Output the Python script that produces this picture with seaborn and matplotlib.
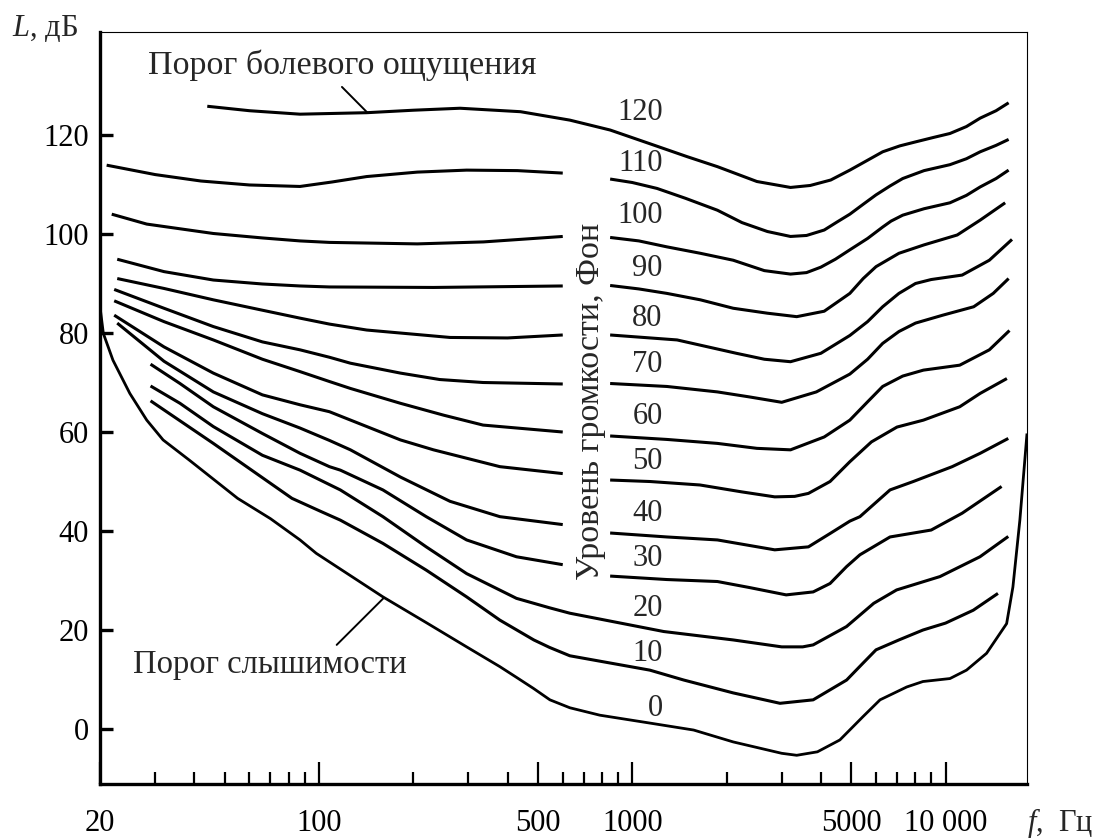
import matplotlib
matplotlib.use("Agg")
import matplotlib.pyplot as plt
import pandas as pd
import seaborn as sns
from matplotlib.ticker import FixedLocator, FixedFormatter, NullFormatter

# ---------------- data (frequency, Hz / level, dB) ----------------
F_0 = [20, 20.5, 22, 24.9, 28.2, 31.8, 38.6, 55, 70, 87, 98, 160, 220, 296, 378, 428,
       484, 546, 632, 788, 1140, 1570, 2100, 3000, 3350, 3900, 4600, 5450, 6180, 7520,
       8470, 10330, 11670, 13520, 15670, 16410, 17270, 18200]
L_0 = [85.3, 79.9, 74.5, 67.8, 62.4, 58.4, 54.3, 46.6, 42.5, 38.2, 35.5, 26.7, 21.5,
       16.6, 12.6, 10.4, 8.2, 5.9, 4.3, 2.8, 1.2, -0.2, -2.6, -4.9, -5.3, -4.6, -2.2,
       2.5, 5.9, 8.5, 9.6, 10.2, 11.9, 15.3, 21.3, 28.7, 42.2, 59.7]

F_10 = [29, 46, 82, 101, 117, 160, 220, 296, 378, 485, 544, 632, 1138, 1460, 2100,
        2962, 3780, 4834, 5450, 6000, 7100, 8470, 10000, 12260, 14700]
L_10 = [66.3, 57.7, 46.6, 44, 42.2, 37.5, 32.1, 26.7, 22, 18, 16.5, 14.8, 11.9, 9.9,
        7.3, 5.2, 5.9, 9.9, 13.3, 16, 18, 20, 21.4, 24, 27.4]

F_20 = [29, 36, 46, 66, 87, 117, 160, 220, 296, 427, 544, 632, 1260, 2100, 3000,
        3500, 3780, 4830, 5900, 6980, 9600, 12880, 15860]
L_20 = [69.3, 65.8, 61.1, 55.3, 52.3, 48.3, 42.9, 36.8, 31.4, 26.4, 24.5, 23.4, 19.7,
        18, 16.6, 16.6, 17, 20.7, 25.4, 28.1, 30.8, 34.8, 38.9]

F_30 = [29, 36, 46, 66, 87, 108, 117, 160, 220, 296, 427, 600, 850, 1290, 1870, 2360,
        3100, 3780, 4280, 4830, 5330, 6650, 9000, 11300, 15100]
L_30 = [73.7, 69.8, 65.1, 59.7, 55.7, 53, 52.3, 48.3, 42.9, 38.2, 34.8, 33.2, 30.9,
        30.2, 29.8, 28.6, 27.1, 27.7, 29.4, 32.8, 35.2, 38.8, 40.2, 43.6, 49]

F_40 = [22.7, 32, 46, 66, 87, 108, 126, 182, 262, 378, 600, 850, 1290, 1870, 2850,
        3650, 4280, 4950, 5330, 6650, 7890, 10500, 12900, 15860]
L_40 = [82, 74.3, 68.1, 63.7, 60.8, 58.3, 56.4, 50.9, 46, 42.9, 41.3, 39.6, 38.8,
        38.2, 36.2, 36.8, 39.5, 42, 42.9, 48.3, 50, 53, 55.7, 58.7]

F_50 = [22.2, 32, 46, 66, 87, 108, 182, 232, 378, 600, 850, 1140, 1645, 2240, 2850,
        3300, 3650, 4280, 4950, 5800, 7000, 8500, 11100, 12900, 15700]
L_50 = [83.6, 77.2, 71.9, 67.5, 65.5, 64.1, 58.4, 56.4, 53, 51.6, 50.3, 50, 49.3,
        47.9, 46.9, 47, 47.6, 50, 54, 58, 61, 62.4, 65.1, 67.8, 70.8]

F_60 = [22.2, 32, 46, 66, 87, 108, 126, 182, 250, 334, 600, 850, 1290, 1870, 2500,
        3200, 4100, 4950, 5640, 6300, 7300, 8500, 11100, 13800, 16000]
L_60 = [86.5, 82.3, 78.6, 74.7, 72.2, 70.2, 68.8, 65.8, 63.4, 61.4, 60, 59.2, 58.5,
        57.7, 56.7, 56.4, 59, 62.4, 66.1, 69.2, 71.3, 72.5, 73.5, 76.6, 80.5]

F_70 = [22.2, 32, 46, 66, 87, 108, 126, 182, 243, 334, 600, 850, 1290, 1870, 2360,
        3000, 3870, 4950, 5640, 6300, 7100, 8020, 9800, 12300, 14200, 15900]
L_70 = [88.8, 85, 81.3, 78.2, 76.6, 75.1, 73.9, 71.9, 70.6, 70, 69.7, 69.8, 69.2,
        68.1, 67.1, 66, 68.1, 71.7, 74.7, 77.9, 80.3, 82, 83.6, 85.3, 88, 91]

F_80 = [22.7, 32, 46, 66, 87, 108, 142, 262, 400, 600, 850, 1390, 2150, 2640, 3200,
        4000, 4950, 5640, 6300, 7100, 8020, 9000, 11300, 13800, 16300]
L_80 = [91, 89, 86.7, 84.6, 83, 81.8, 80.6, 79.1, 79, 79.6, 79.6, 78.6, 75.9, 74.7,
        74.2, 75.9, 79.5, 82.3, 85.3, 88, 90, 90.8, 91.7, 94.7, 98.9]

F_90 = [22.7, 32, 46, 66, 87, 108, 232, 600, 850, 1050, 1290, 1650, 2100, 2700, 3350,
        4100, 4950, 5460, 6000, 7100, 8540, 10900, 12900, 15500]
L_90 = [94.9, 92.4, 90.7, 89.9, 89.5, 89.3, 89.2, 89.5, 89.6, 88.9, 88, 86.7, 85, 84,
        83.3, 84.4, 88, 91, 93.4, 96.1, 97.8, 99.8, 102.8, 106.3]

F_100 = [21.8, 28.2, 46, 66, 87, 108, 206, 335, 600, 850, 1050, 1290, 1650, 2100,
         2640, 3200, 3600, 4000, 4450, 4950, 5640, 6300, 6700, 7300, 8540, 10330,
         11660, 12900, 14500, 15900]
L_100 = [104, 102, 100.1, 99.2, 98.6, 98.3, 98, 98.4, 99.5, 99.3, 98.6, 97.4, 96.1,
         94.7, 92.6, 91.9, 92.2, 93.3, 94.9, 96.8, 99.1, 101.4, 102.6, 103.8, 105.1,
         106.3, 107.8, 109.5, 111.2, 112.9]

F_110 = [21, 30, 42, 60, 87, 110, 142, 206, 296, 430, 600, 850, 1000, 1200, 1480,
         1870, 2240, 2700, 3200, 3600, 4100, 4500, 4950, 5460, 6000, 6650, 7300, 8540,
         10330, 11660, 12900, 14500, 15900]
L_110 = [113.9, 112, 110.7, 109.9, 109.6, 110.5, 111.6, 112.5, 112.9, 112.8, 112.3,
         111.1, 110.4, 109.2, 107.2, 104.8, 102.3, 100.5, 99.5, 99.7, 100.8, 102.4,
         104, 106, 107.9, 109.7, 111.2, 112.8, 114, 115.2, 116.6, 117.9, 119.1]

F_120 = [44, 60, 87, 142, 200, 282, 440, 632, 850, 1130, 1500, 1870, 2500, 3200, 3700,
         4300, 4950, 5640, 6300, 7150, 8020, 9150, 10330, 11660, 12900, 14500, 15900]
L_120 = [125.8, 124.9, 124.2, 124.5, 125, 125.4, 124.7, 123, 121, 118.3, 115.6, 113.6,
         110.6, 109.4, 109.8, 110.9, 112.9, 114.9, 116.6, 117.8, 118.6, 119.5, 120.3,
         121.7, 123.4, 124.9, 126.5]

PHONS = [0, 10, 20, 30, 40, 50, 60, 70, 80, 90, 100, 110, 120]
CURVES_F = [F_0, F_10, F_20, F_30, F_40, F_50, F_60, F_70, F_80, F_90, F_100, F_110, F_120]
CURVES_L = [L_0, L_10, L_20, L_30, L_40, L_50, L_60, L_70, L_80, L_90, L_100, L_110, L_120]
GAPPED = [30, 40, 50, 60, 70, 80, 90, 100, 110]
GAP_LO, GAP_HI = 600, 850

LABEL_F = 1250
LABEL_L = [4.2, 15.3, 24.4, 34.5, 43.6, 54, 63.1, 73.7, 83, 93.1, 103.8, 114.3, 124.5]

X_MAJOR = [20, 100, 500, 1000, 5000, 10000]
X_LABELS = ["20", "100", "500", "1000", "5000", "10 000"]
X_MINOR = [30, 40, 50, 60, 70, 80, 90, 200, 300, 400, 600, 700, 800, 900,
           2000, 3000, 4000, 6000, 7000, 8000, 9000]
Y_TICKS = [0, 20, 40, 60, 80, 100, 120]

# ---------------- style ----------------
sns.set_style("white")
plt.rcParams['font.family'] = ['Liberation Serif', 'DejaVu Serif']
plt.rcParams['mathtext.fontset'] = 'custom'
plt.rcParams['mathtext.it'] = 'Liberation Serif:italic'
plt.rcParams['mathtext.rm'] = 'Liberation Serif'
FS = 22

fig = plt.figure(figsize=(11.02, 8.38), dpi=100)
ax = fig.add_axes([100 / 1102, 54 / 838, 927 / 1102, 752 / 838])
ax.set_xscale('log')

rows = []
for phon, F, L in zip(PHONS, CURVES_F, CURVES_L):
    for f, l in zip(F, L):
        seg = f"{phon}"
        if phon in GAPPED:
            if f <= GAP_LO:
                seg += "a"
            elif f >= GAP_HI:
                seg += "b"
            else:
                continue
        rows.append({"freq": f, "level": l, "seg": seg, "phon": phon})
df = pd.DataFrame(rows)

for seg, sub in df.groupby("seg", sort=False):
    lw = 2.0 if sub["phon"].iloc[0] == 0 else 2.2
    sns.lineplot(data=sub, x="freq", y="level", estimator=None, sort=False,
                 color="black", linewidth=lw, ax=ax, legend=False,
                 solid_joinstyle="round", solid_capstyle="butt")

ax.set_xlim(20, 18200)
ax.set_ylim(-11.1, 140.8)
ax.set_xlabel("")
ax.set_ylabel("")

ax.xaxis.set_major_locator(FixedLocator(X_MAJOR))
ax.xaxis.set_major_formatter(FixedFormatter(X_LABELS))
ax.xaxis.set_minor_locator(FixedLocator(X_MINOR))
ax.xaxis.set_minor_formatter(NullFormatter())
ax.yaxis.set_major_locator(FixedLocator(Y_TICKS))
ax.yaxis.set_minor_locator(FixedLocator([]))

ax.tick_params(axis='x', which='major', direction='in', length=16, width=1.6,
               pad=18, labelsize=FS, color='black', labelcolor='black',
               bottom=True, top=False)
ax.tick_params(axis='x', which='minor', direction='in', length=8.3, width=1.6,
               color='black', bottom=True, top=False)
ax.tick_params(axis='y', which='major', direction='in', length=9.4, width=2.4,
               pad=8, labelsize=FS, color='black', labelcolor='black',
               left=True, right=False)

for side in ['left', 'bottom']:
    ax.spines[side].set_linewidth(2.4)
    ax.spines[side].set_color('black')
for side in ['top', 'right']:
    ax.spines[side].set_linewidth(0.8)
    ax.spines[side].set_color('black')
ax.grid(False)

# curve labels
for phon, lv in zip(PHONS, LABEL_L):
    ax.text(LABEL_F, lv, str(phon), ha='right', va='center', fontsize=FS)

# annotations
ax.text(28.5, 134.1, "Порог болевого ощущения", ha='left', va='center', fontsize=24.5)
ax.plot([118.4, 142.3], [129.7, 124.6], color='black', lw=1.4)
ax.text(25.5, 12.9, "Порог слышимости", ha='left', va='center', fontsize=23.5)
ax.plot([113.9, 160.5], [17.0, 26.4], color='black', lw=1.4)
ax.text(738, 66.2, "Уровень громкости, Фон", rotation=90, ha='center', va='center',
        fontsize=24.5)

fig.text(12 / 1102, 1 - 28 / 838, "$L$, дБ", ha='left', va='center', fontsize=FS)
fig.text(1027 / 1102, 1 - 823 / 838, "$f$,  Гц", ha='left', va='center', fontsize=FS)

fig.savefig("out.png", dpi=100)
